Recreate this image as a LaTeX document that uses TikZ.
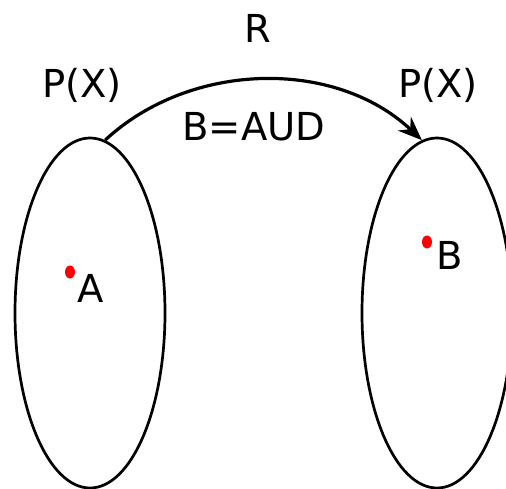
\documentclass[tikz,border=0pt]{standalone}
\usepackage{fontspec}
\setmainfont{DejaVu Sans}
\usetikzlibrary{shapes.geometric,arrows.meta}
\begin{document}
\begin{tikzpicture}[x=1pt,y=1pt,
  setshape/.style={draw=black,line width=2.7pt,ellipse,inner sep=0pt,minimum width=150pt,minimum height=350pt},
  reddot/.style={fill=red,draw=none,ellipse,inner sep=0pt,minimum width=10pt,minimum height=13pt},
  lbl/.style={font=\fontsize{38.5}{40}\selectfont,inner sep=0pt,anchor=center},
  arr/.style={line width=3.2pt,-{Stealth[length=24pt,width=19pt,inset=8pt]}}]
\useasboundingbox (0,0) rectangle (506,-489);
\node[setshape] (L) at (90,-313) {};
\node[setshape] (Rs) at (437,-313) {};
\node[reddot] (da) at (70,-272) {};
\node[reddot] (db) at (427,-242) {};
\node[lbl] (la) at (91,-288) {A};
\node[lbl] (lb) at (450,-255) {B};
\node[lbl] (pl) at (82,-85) {P(X)};
\node[lbl] (pr) at (438,-85) {P(X)};
\node[lbl] (r) at (258,-28) {R};
\node[lbl] (eq) at (254,-127) {B=AUD};
\draw[arr] (L.85) .. controls +(85,79) and +(-87,82) .. (Rs.95);
\end{tikzpicture}
\end{document}
